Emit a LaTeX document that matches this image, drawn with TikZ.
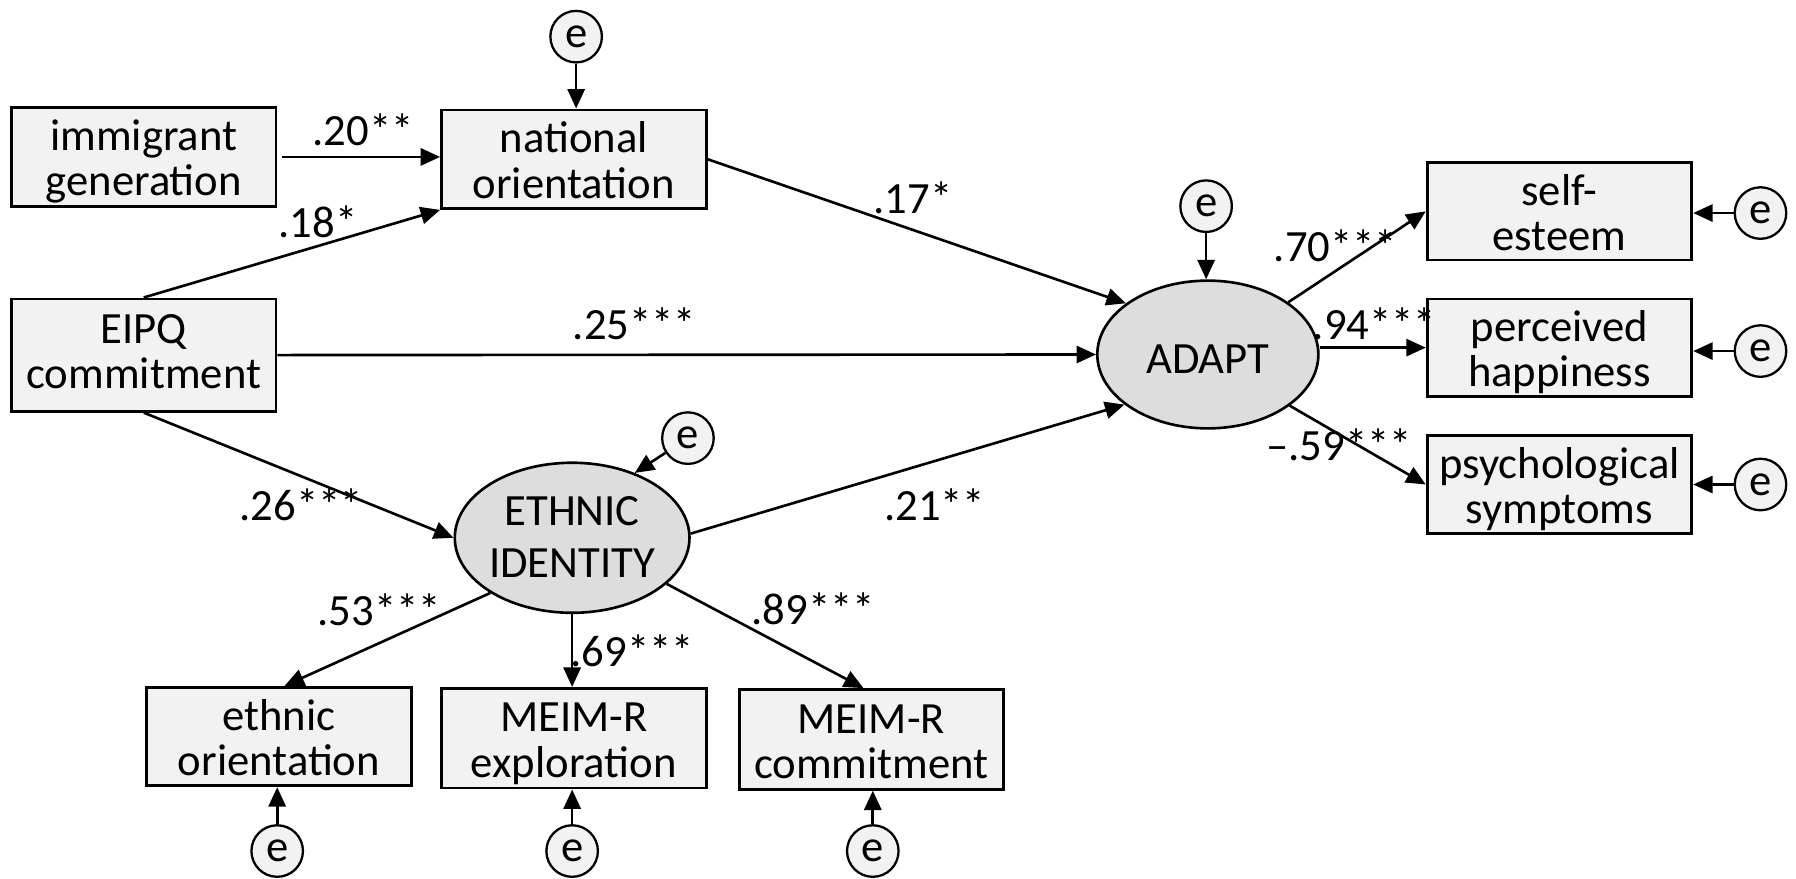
\documentclass[tikz,border=0pt]{standalone}
\usepackage{fontspec}
\setmainfont{Carlito}
\usetikzlibrary{arrows.meta,shapes.geometric}
\definecolor{boxfill}{HTML}{F2F2F2}
\definecolor{latfill}{HTML}{DDDDDD}
\begin{document}
\begin{tikzpicture}[x=1pt,y=-1pt, font=\fontsize{39}{39.5}\selectfont,
  obs/.style={draw, line width=2.5pt, fill=boxfill, rectangle, inner sep=0pt, align=center, minimum width=231pt, minimum height=86pt, text height=68pt, text depth=0pt},
  lat/.style={draw, line width=2.3pt, fill=latfill, ellipse, inner sep=0pt, align=center, minimum width=193pt, minimum height=129pt, text depth=0pt},
  err/.style={draw, line width=2pt, fill=boxfill, circle, inner sep=0pt, minimum size=45pt},
  arr/.style={line width=2.3pt, -{Triangle[length=17pt,width=15pt]}},
  coef/.style={inner sep=0pt}]
\useasboundingbox (0,0) rectangle (1568,767);
% observed variables
\node[obs] (imm) at (125.5,137) {immigrant\\generation};
\node[obs] (nat) at (501,139) {national\\orientation};
\node[obs, minimum height=98pt, text height=58pt] (eipq) at (125.5,310) {EIPQ\\commitment};
\node[obs, minimum height=85pt] (self) at (1361.5,184.5) {self-\\esteem};
\node[obs, minimum height=85pt] (perc) at (1361.5,303.5) {perceived\\happiness};
\node[obs] (psych) at (1361.5,423) {psychological\\symptoms};
\node[obs] (eo) at (243.5,643) {ethnic\\orientation};
\node[obs, minimum height=87pt] (mx) at (501,644.5) {MEIM-R\\exploration};
\node[obs, minimum height=87pt] (mc) at (760.8,645.5) {MEIM-R\\commitment};
% latent variables
\node[lat, text height=33pt] (adapt) at (1054.5,309.5) {ADAPT};
\node[lat, minimum width=194pt, minimum height=131pt, text height=70pt] (eth) at (499.5,469.5) {ETHNIC\\[6pt]IDENTITY};
% error terms
\node[err] (e1) at (503,32) {e};
\node[err] (e2) at (1053,180) {e};
\node[err] (e3) at (600.6,382.5) {e};
\node[err] (e4) at (1537,186) {e};
\node[err] (e5) at (1537,306.5) {e};
\node[err] (e6) at (1537,423) {e};
\node[err] (e7) at (242,743) {e};
\node[err] (e8) at (499.5,743) {e};
\node[err] (e9) at (762,743) {e};
% structural paths
\draw[arr] ([xshift=4pt]imm.east) -- (nat.west |- imm.east);
\draw[arr] (eipq.north) -- (nat.south west);
\draw[arr] (nat.east) -- (adapt.148);
\draw[arr] (eipq.east) -- (adapt.west);
\draw[arr] (eipq.south) -- (eth.west);
\draw[arr] (eth.2) -- (adapt.211);
\draw[arr] (adapt.33) -- (self.west);
\draw[arr] (adapt.east |- perc.west) -- (perc.west);
\draw[arr] (adapt.328) -- (psych.west);
\draw[arr] (eth.214) -- ([xshift=5pt]eo.north);
\draw[arr] (eth.south) -- (eth.south |- mx.north);
\draw[arr] (eth.334) -- ([xshift=-7pt]mc.north);
% error paths
\draw[arr] (e1) -- (e1 |- nat.north);
\draw[arr] (e2) -- (e2 |- adapt.north);
\draw[arr] (e3) -- (eth.46);
\draw[arr] (e4) -- (e4 -| self.east);
\draw[arr] (e5) -- (e5 -| perc.east);
\draw[arr] (e6) -- (e6 -| psych.east);
\draw[arr] (e7) -- (e7 |- eo.south);
\draw[arr] (e8) -- (e8 |- mx.south);
\draw[arr] (e9) -- (e9 |- mc.south);
% coefficients
\node[coef] (c1) at (317,113.5) {.20**};
\node[coef] (c2) at (277.5,193.5) {.18*};
\node[coef] (c3) at (797,172.5) {.17*};
\node[coef] (c4) at (554,283) {.25***};
\node[coef] (c5) at (263,440.5) {.26***};
\node[coef] (c6) at (816,440.5) {.21**};
\node[coef] (c7) at (331,532) {.53***};
\node[coef] (c8) at (552,568.5) {.69***};
\node[coef] (c9) at (710,531.5) {.89***};
\node[coef] (c10) at (1166,215) {.70***};
\node[coef] (c11) at (1200,283) {.94***};
\node[coef] (c12) at (1169,388) {\textendash.59***};
\end{tikzpicture}
\end{document}
